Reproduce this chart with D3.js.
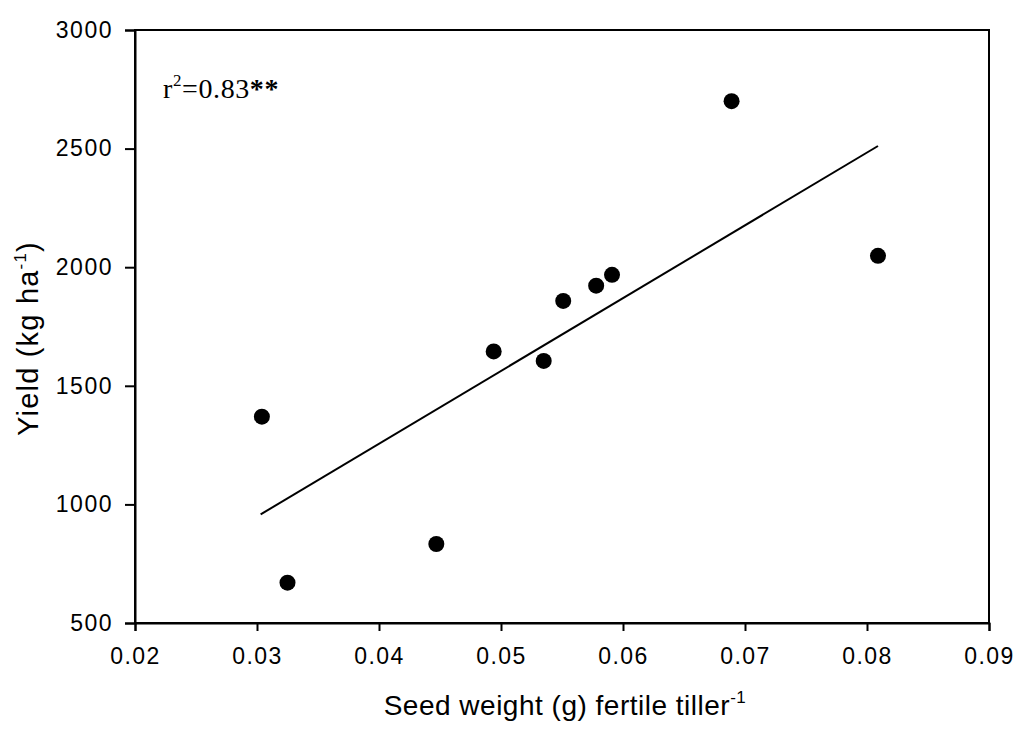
<!DOCTYPE html>
<html>
<head>
<meta charset="utf-8">
<script src="https://cdn.jsdelivr.net/npm/d3@7"></script>
<style>
  body { margin: 0; background: #fff; }
  text { font-family: Arial, "Liberation Sans", sans-serif; fill: #000; }
</style>
</head>
<body>
<div id="chart"></div>
<script>
// seed weight per fertile tiller vs yield
const seedWeight = [0.0304, 0.0325, 0.0447, 0.0494, 0.0535, 0.0551, 0.0578, 0.0591, 0.0689, 0.0809];
const yieldKg = [1370, 670, 833, 1645, 1605, 1858, 1922, 1968, 2700, 2048];

// fitted regression line ends
const fitX = [0.0303, 0.0809];
const fitY = [958, 2511];

const xTicks = [0.02, 0.03, 0.04, 0.05, 0.06, 0.07, 0.08, 0.09];
const yTicks = [500, 1000, 1500, 2000, 2500, 3000];

const width = 1021, height = 736;
const margin = { top: 30, right: 32, bottom: 113, left: 135 };
const innerW = width - margin.left - margin.right;
const innerH = height - margin.top - margin.bottom;

const svg = d3.select("#chart")
  .append("svg")
  .attr("width", width)
  .attr("height", height);

const g = svg.append("g")
  .attr("transform", `translate(${margin.left},${margin.top})`);

const x = d3.scaleLinear().domain([0.02, 0.09]).range([0, innerW]);
const y = d3.scaleLinear().domain([500, 3000]).range([innerH, 0]);

// frame
g.append("rect")
  .attr("width", innerW)
  .attr("height", innerH)
  .attr("fill", "none")
  .attr("stroke", "#000")
  .attr("stroke-width", 2);

const xAxis = g.append("g")
  .attr("transform", `translate(0,${innerH})`)
  .call(d3.axisBottom(x).tickValues(xTicks).tickFormat(d3.format(".2f")).tickSize(8).tickPadding(17));

const yAxis = g.append("g")
  .call(d3.axisLeft(y).tickValues(yTicks).tickFormat(d3.format("d")).tickSize(10).tickPadding(12));

[xAxis, yAxis].forEach(ax => {
  ax.select(".domain").attr("stroke-width", 2);
  ax.selectAll(".tick line").attr("stroke-width", 2);
  ax.selectAll(".tick text")
    .style("font-family", "Arial, 'Liberation Sans', sans-serif")
    .style("font-size", "23px")
    .style("letter-spacing", "1.5px");
});

// regression line
g.append("path")
  .datum(fitX.map((d, i) => [d, fitY[i]]))
  .attr("d", d3.line().x(d => x(d[0])).y(d => y(d[1])))
  .attr("fill", "none")
  .attr("stroke", "#000")
  .attr("stroke-width", 2);

// points
g.selectAll("circle.pt")
  .data(seedWeight.map((d, i) => ({ x: d, y: yieldKg[i] })))
  .join("circle")
  .attr("class", "pt")
  .attr("cx", d => x(d.x))
  .attr("cy", d => y(d.y))
  .attr("r", 8)
  .attr("fill", "#000");

// r2 annotation
const r2 = g.append("text")
  .attr("x", 28)
  .attr("y", 68)
  .style("font-family", "'Liberation Serif', 'Times New Roman', serif")
  .style("font-size", "28px")
  .style("letter-spacing", "0.6px");
r2.append("tspan").text("r");
r2.append("tspan").attr("dy", -12).style("font-size", "17px").text("2");
r2.append("tspan").attr("dy", 12).text("=0.83");
r2.append("tspan").style("font-weight", "bold").text("**");

// X axis label
const xl = svg.append("text")
  .attr("x", margin.left + innerW / 2 + 3)
  .attr("y", 715)
  .attr("text-anchor", "middle")
  .style("font-size", "28px")
  .style("letter-spacing", "0.5px");
xl.append("tspan").text("Seed weight (g) fertile tiller");
xl.append("tspan").attr("dy", -12).style("font-size", "17px").text("-1");

// Y axis label
const yl = svg.append("text")
  .attr("transform", `translate(38,${margin.top + innerH / 2 + 12}) rotate(-90)`)
  .attr("text-anchor", "middle")
  .style("font-size", "29px")
  .style("letter-spacing", "1.2px");
yl.append("tspan").text("Yield (kg ha");
yl.append("tspan").attr("dy", -12).style("font-size", "17px").text("-1");
yl.append("tspan").attr("dy", 12).text(")");
</script>
</body>
</html>
